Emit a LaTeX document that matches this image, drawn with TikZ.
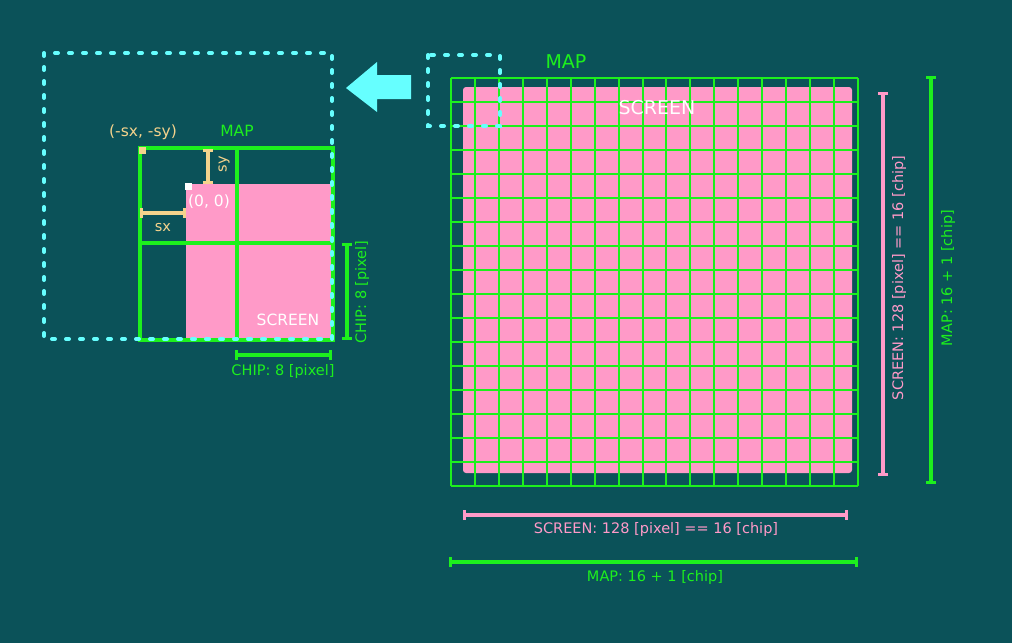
\documentclass[tikz,border=0pt]{standalone}
\usepackage{fontspec}
\setmainfont{DejaVu Sans}
\usetikzlibrary{arrows.meta}
\definecolor{bg}{HTML}{0B5259}
\definecolor{mgreen}{HTML}{1DF01D}
\definecolor{mpink}{HTML}{FF9AC8}
\definecolor{mcyan}{HTML}{66FFFF}
\definecolor{myellow}{HTML}{F5D38C}
\begin{document}
\begin{tikzpicture}[x=1pt,y=-1pt,
  cdash/.style={mcyan,line width=4pt,line cap=round,dash pattern=on 3pt off 11pt},
  gthick/.style={mgreen,line width=4pt},
  gthin/.style={mgreen,line width=2pt},
  dimg/.style={mgreen,line width=4pt,{Bar[width=10pt,line width=3pt]}-{Bar[width=10pt,line width=3pt]}},
  dimp/.style={mpink,line width=3.4pt,{Bar[width=10pt,line width=3pt]}-{Bar[width=10pt,line width=3pt]}},
  dimy/.style={myellow,line width=3.4pt,{Bar[width=10pt,line width=3pt]}-{Bar[width=10pt,line width=3pt]}},
  lbl/.style={inner sep=0pt,font=\fontsize{14.5}{17}\selectfont},
  glbl/.style={lbl,text=mgreen},
  plbl/.style={lbl,text=mpink},
  ylbl/.style={lbl,text=myellow},
  wlbl/.style={lbl,text=white}]
\fill[bg] (0,0) rectangle (1012,643);
\useasboundingbox (0,0) rectangle (1012,643);

% ---------- left diagram ----------
\coordinate (LMtl) at (140,148);
\coordinate (LMbr) at (333,340);
\coordinate (LStl) at (186,184);
\fill[mpink] (LStl) rectangle (LMbr);
\draw[gthick] (LMtl) rectangle (LMbr);
\draw[gthick] (237,148) -- (237,340);
\draw[gthick] (140,243) -- (333,243);
\draw[cdash] (44,53) rectangle (332,339);
\fill[myellow] (139,147) rectangle (146,154);
\fill[white] (185,183) rectangle (192,190);

\node[ylbl,font=\fontsize{15.5}{18}\selectfont] (lneg) at (143,132) {(-sx, -sy)};
\node[glbl,font=\fontsize{15.5}{18}\selectfont] (lmap) at (237,131) {MAP};
\node[wlbl,font=\fontsize{15.5}{18}\selectfont] (lzero) at (209,202) {(0, 0)};
\node[wlbl,font=\fontsize{15.5}{18}\selectfont] (lscr) at (288,320) {SCREEN};

\coordinate (sya) at (208,149);
\coordinate (syb) at (208,184);
\draw[dimy] (sya) -- (syb);
\node[ylbl,rotate=90] (sylbl) at (224,164) {sy};
\coordinate (sxa) at (140,213);
\coordinate (sxb) at (186,213);
\draw[dimy] (sxa) -- (sxb);
\node[ylbl] (sxlbl) at (163,228) {sx};

\coordinate (cva) at (347,243);
\coordinate (cvb) at (347,340);
\draw[dimg] (cva) -- (cvb);
\node[glbl,rotate=90] (cvlbl) at (362,292) {CHIP: 8 [pixel]};
\coordinate (cha) at (235,355);
\coordinate (chb) at (332,355);
\draw[dimg] (cha) -- (chb);
\node[glbl] (chlbl) at (283,371) {CHIP: 8 [pixel]};

% arrow
\fill[mcyan] (346,88) -- (377,62) -- (377,75) -- (411,75) -- (411,99) -- (377,99) -- (377,112) -- cycle;

% ---------- right diagram ----------
\fill[mpink,rounded corners=3pt] (463,87) rectangle (852,473);
\foreach \i in {0,...,17}{
  \draw[gthin] ({451+\i*23.94},78) -- ({451+\i*23.94},486);
  \draw[gthin] (451,{78+\i*24}) -- (858,{78+\i*24});
}
\draw[cdash] (428,55) rectangle (500,126);
\node[glbl,font=\fontsize{19}{22}\selectfont] (rmap) at (566,62) {MAP};
\node[wlbl,font=\fontsize{19}{22}\selectfont] (rscr) at (657,108) {SCREEN};

\coordinate (pva) at (883,92);
\coordinate (pvb) at (883,476);
\draw[dimp] (pva) -- (pvb);
\node[plbl,rotate=90] (pvlbl) at (899,278) {SCREEN: 128 [pixel] == 16 [chip]};
\coordinate (gva) at (931,76);
\coordinate (gvb) at (931,484);
\draw[dimg] (gva) -- (gvb);
\node[glbl,rotate=90] (gvlbl) at (948,278) {MAP: 16 + 1 [chip]};

\coordinate (pha) at (463,515);
\coordinate (phb) at (848,515);
\draw[dimp] (pha) -- (phb);
\node[plbl] (phlbl) at (656,529) {SCREEN: 128 [pixel] == 16 [chip]};
\coordinate (gha) at (449,562);
\coordinate (ghb) at (858,562);
\draw[dimg] (gha) -- (ghb);
\node[glbl] (ghlbl) at (655,577) {MAP: 16 + 1 [chip]};
\end{tikzpicture}
\end{document}
